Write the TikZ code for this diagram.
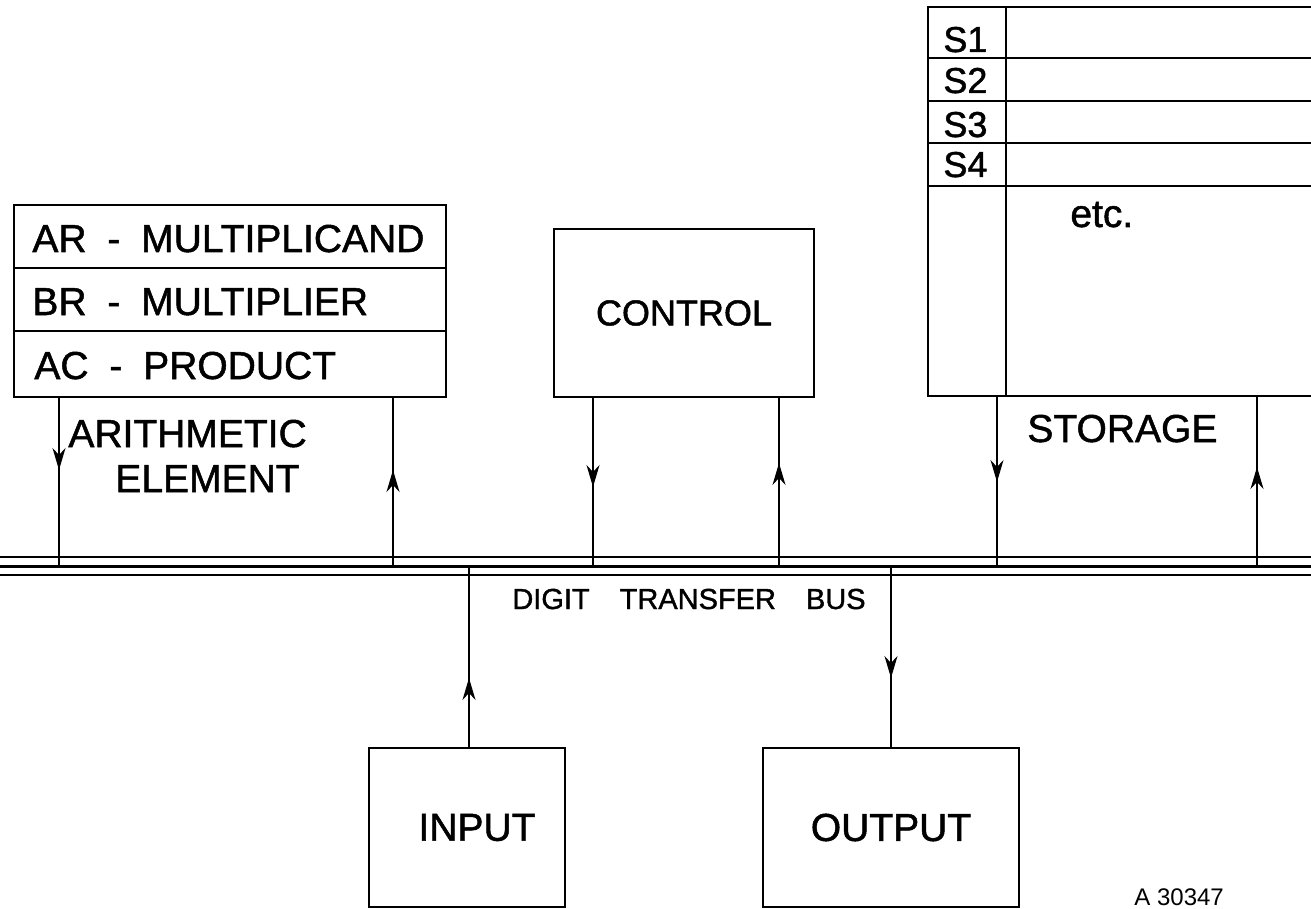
\documentclass[tikz,border=0pt]{standalone}
\usepackage{fontspec}
\setmainfont{Liberation Sans}[BoldFont={Liberation Sans}, BoldFeatures={FakeBold=1.3}]
\usetikzlibrary{arrows.meta,decorations.markings}
\begin{document}
\begin{tikzpicture}[x=0.5pt,y=-0.5pt,
  box/.style={draw, line width=0.9pt, rectangle, inner sep=0pt, outer sep=0pt, anchor=north west},
  wire/.style={line width=0.7pt},
  lbl/.style={inner sep=0pt, anchor=base west},
  arrowat/.style={postaction={decorate},decoration={markings,mark=at position #1 with {\arrow{Stealth[length=11pt,width=6.5pt,inset=3.5pt]}}}},
  big/.style={font=\fontsize{19.5}{23}\selectfont\bfseries},
  mid/.style={font=\fontsize{18}{22}\selectfont\bfseries},
  small/.style={font=\fontsize{14.5}{17}\selectfont\bfseries},
  tiny/.style={font=\fontsize{12}{14}\selectfont},
  busthin/.style={line width=0.7pt},
  busthick/.style={line width=1.5pt},
]
\useasboundingbox (0,0) rectangle (1311,909);

% ---- arithmetic element
\node[box, minimum width=216pt, minimum height=31.5pt] (ar) at (14,205) {};
\node[box, minimum width=216pt, minimum height=31.5pt] (br) at (14,268) {};
\node[box, minimum width=216pt, minimum height=33pt] (ac) at (14,331) {};
\node[lbl, big] (art) at (32,252) {AR\hspace{5pt} - \hspace{5pt}MULTIPLICAND};
\node[lbl, big] (brt) at (32,315) {BR\hspace{5pt} - \hspace{5pt}MULTIPLIER};
\node[lbl, big] (act) at (34,379) {AC\hspace{5pt} - \hspace{5pt}PRODUCT};
\node[lbl, big] (arith1) at (68,447) {ARITHMETIC};
\node[lbl, big] (arith2) at (115,492) {ELEMENT};

% ---- control
\node[box, minimum width=130pt, minimum height=84pt, mid] (ctrl) at (554,229) {CONTROL};

% ---- storage
\node[box, minimum width=39pt, minimum height=25.5pt] (s1) at (928,7) {};
\node[box, minimum width=39pt, minimum height=21.5pt] (s2) at (928,58) {};
\node[box, minimum width=39pt, minimum height=21pt] (s3) at (928,101) {};
\node[box, minimum width=39pt, minimum height=21.5pt] (s4) at (928,143) {};
\node[box, minimum width=39pt, minimum height=105pt] (s5) at (928,186) {};
\node[box, minimum width=157pt, minimum height=25.5pt] (r1) at (1006,7) {};
\node[box, minimum width=157pt, minimum height=21.5pt] (r2) at (1006,58) {};
\node[box, minimum width=157pt, minimum height=21pt] (r3) at (1006,101) {};
\node[box, minimum width=157pt, minimum height=21.5pt] (r4) at (1006,143) {};
\node[box, minimum width=157pt, minimum height=105pt] (r5) at (1006,186) {};
\node[lbl, mid] (s1t) at (943,52) {S1};
\node[lbl, mid] (s2t) at (943,93) {S2};
\node[lbl, mid] (s3t) at (943,137) {S3};
\node[lbl, mid] (s4t) at (943,177) {S4};
\node[lbl, big] (etc) at (1070,227) {etc.};
\node[lbl, big] (stor) at (1027,442) {STORAGE};

% ---- input / output
\node[box, minimum width=98pt, minimum height=79.5pt, big] (inp) at (369,748) {\hspace{10pt}INPUT};
\node[box, minimum width=128pt, minimum height=79.5pt, big] (outp) at (763,748) {OUTPUT};

% ---- bus
\coordinate (busL) at (0,566);
\coordinate (busR) at (1311,566);
\draw[busthin] ([yshift=4.5pt]busL) -- ([yshift=4.5pt]busR);
\draw[busthick] (busL) -- (busR);
\draw[busthin] ([yshift=-4.5pt]busL) -- ([yshift=-4.5pt]busR);
\node[inner sep=0pt, anchor=base, small] (bustxt) at (689,609) {DIGIT\hspace{15pt}TRANSFER\hspace{15pt}BUS};

\coordinate (bA1) at (59,566);
\coordinate (bA2) at (393,566);
\coordinate (bC1) at (593,566);
\coordinate (bC2) at (779,566);
\coordinate (bS1) at (997,566);
\coordinate (bS2) at (1257,566);
\coordinate (bI) at (469,566);
\coordinate (bO) at (891,566);

\draw[wire, arrowat=36.5pt] (ac.south -| bA1) -- (bA1);
\draw[wire, arrowat=48pt] (bA2) -- (ac.south -| bA2);
\draw[wire, arrowat=45pt] (ctrl.south -| bC1) -- (bC1);
\draw[wire, arrowat=51.5pt] (bC2) -- (ctrl.south -| bC2);
\draw[wire, arrowat=43pt] (s5.south -| bS1) -- (bS1);
\draw[wire, arrowat=49.5pt] (bS2) -- (r5.south -| bS2);
\draw[wire, arrowat=35pt] (inp.north -| bI) -- (bI);
\draw[wire, arrowat=56pt] (bO) -- (outp.north -| bO);

\node[lbl, tiny] (ref) at (1134,905) {A 30347};
\end{tikzpicture}
\end{document}
